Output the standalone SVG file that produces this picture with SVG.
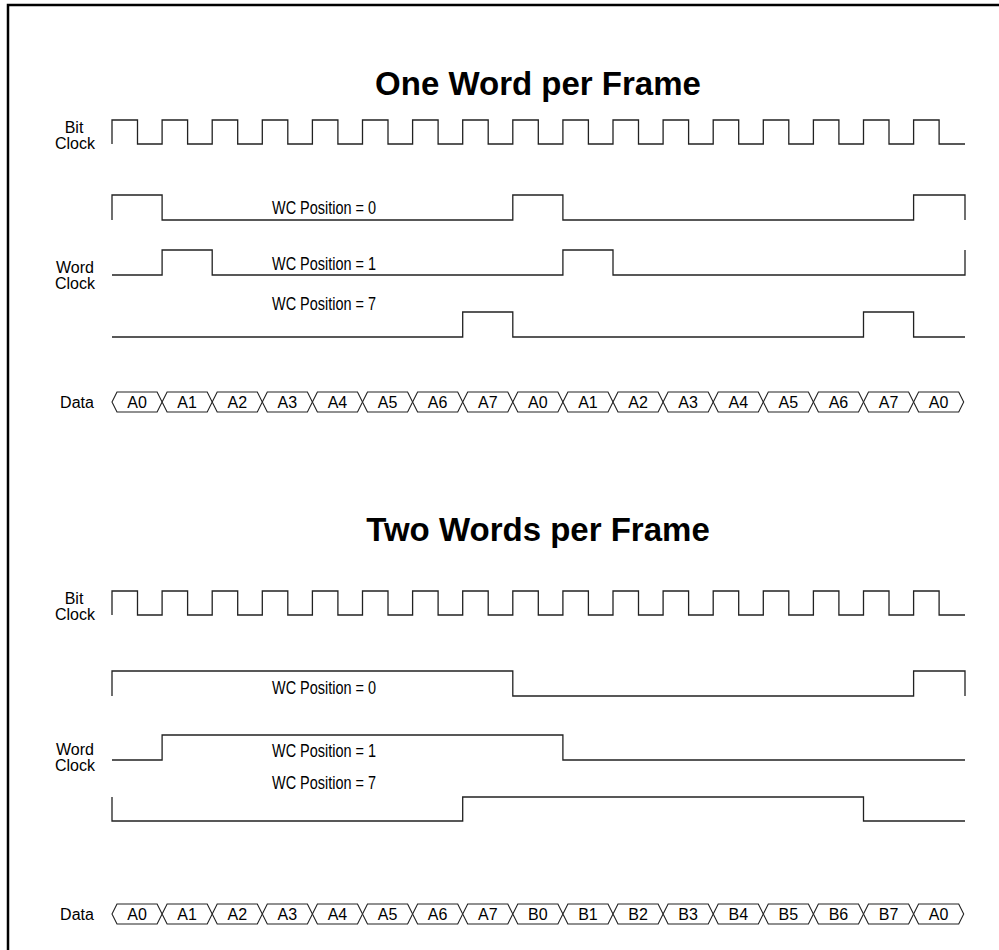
<svg xmlns="http://www.w3.org/2000/svg" width="999" height="950" viewBox="0 0 999 950">
<style>
.t{font-family:"Liberation Sans",Arial,sans-serif;fill:#000}
.title{font-size:33px;font-weight:bold;text-anchor:middle}
.lbl{font-size:16px;text-anchor:middle}
.wc{font-size:18px}
.cell{font-size:16px;text-anchor:middle}
.w{fill:none;stroke:#222;stroke-width:1.3}
.hx{fill:#fff;stroke:#222;stroke-width:1.1}
</style>
<defs>
<path id="bitclk" class="w" d="M112,144 V120 H137.5 V144 H162.1 V120 H187.6 V144 H212.2 V120 H237.7 V144 H262.3 V120 H287.8 V144 H312.4 V120 H337.9 V144 H362.5 V120 H388 V144 H412.6 V120 H438.1 V144 H462.7 V120 H488.2 V144 H512.8 V120 H538.3 V144 H562.9 V120 H588.4 V144 H613 V120 H638.5 V144 H663.1 V120 H688.6 V144 H713.2 V120 H738.7 V144 H763.3 V120 H788.8 V144 H813.4 V120 H838.9 V144 H863.5 V120 H889 V144 H913.6 V120 H939.1 V144 H965"/>
<polygon id="hex" class="hx" points="0,0 5,-10 45.1,-10 50.1,0 45.1,10 5,10"/>
</defs>
<rect width="999" height="950" fill="#fff"/>
<path id="border" d="M8,950 V5 H999" fill="none" stroke="#000" stroke-width="2.5"/>

<g id="section1">
<text class="t title" x="538" y="95">One Word per Frame</text>
<g id="bitclock1">
<text class="t lbl" x="74" y="133">Bit</text>
<text class="t lbl" x="75" y="149">Clock</text>
<use href="#bitclk"/>
</g>
<g id="wordclock1">
<text class="t lbl" x="75" y="273">Word</text>
<text class="t lbl" x="75" y="289">Clock</text>
<g id="wc0-1">
<path class="w" d="M112,220 V195 H162.1 V220 H512.8 V195 H562.9 V220 H913.6 V195 H965 V220"/>
<text class="t wc" x="272" y="214" textLength="104" lengthAdjust="spacingAndGlyphs">WC Position = 0</text>
</g>
<g id="wc1-1">
<path class="w" d="M112,275 H162.1 V250 H212.2 V275 H562.9 V250 H613 V275 H965 V250"/>
<text class="t wc" x="272" y="270" textLength="104" lengthAdjust="spacingAndGlyphs">WC Position = 1</text>
</g>
<g id="wc7-1">
<path class="w" d="M112,337 H462.7 V312 H512.8 V337 H863.5 V312 H913.6 V337 H965"/>
<text class="t wc" x="272" y="310" textLength="104" lengthAdjust="spacingAndGlyphs">WC Position = 7</text>
</g>
</g>
<g id="data1">
<text class="t lbl" x="77" y="408">Data</text>
<use href="#hex" x="112" y="402"/><use href="#hex" x="162.1" y="402"/><use href="#hex" x="212.2" y="402"/><use href="#hex" x="262.3" y="402"/><use href="#hex" x="312.4" y="402"/><use href="#hex" x="362.5" y="402"/><use href="#hex" x="412.6" y="402"/><use href="#hex" x="462.7" y="402"/><use href="#hex" x="512.8" y="402"/><use href="#hex" x="562.9" y="402"/><use href="#hex" x="613" y="402"/><use href="#hex" x="663.1" y="402"/><use href="#hex" x="713.2" y="402"/><use href="#hex" x="763.3" y="402"/><use href="#hex" x="813.4" y="402"/><use href="#hex" x="863.5" y="402"/><use href="#hex" x="913.6" y="402"/>
<text class="t cell" x="137.05" y="408">A0</text><text class="t cell" x="187.15" y="408">A1</text><text class="t cell" x="237.25" y="408">A2</text><text class="t cell" x="287.35" y="408">A3</text><text class="t cell" x="337.45" y="408">A4</text><text class="t cell" x="387.55" y="408">A5</text><text class="t cell" x="437.65" y="408">A6</text><text class="t cell" x="487.75" y="408">A7</text><text class="t cell" x="537.85" y="408">A0</text><text class="t cell" x="587.95" y="408">A1</text><text class="t cell" x="638.05" y="408">A2</text><text class="t cell" x="688.15" y="408">A3</text><text class="t cell" x="738.25" y="408">A4</text><text class="t cell" x="788.35" y="408">A5</text><text class="t cell" x="838.45" y="408">A6</text><text class="t cell" x="888.55" y="408">A7</text><text class="t cell" x="938.65" y="408">A0</text>
</g>
</g>

<g id="section2">
<text class="t title" x="538" y="541">Two Words per Frame</text>
<g id="bitclock2">
<text class="t lbl" x="74" y="604">Bit</text>
<text class="t lbl" x="75" y="620">Clock</text>
<use href="#bitclk" y="471"/>
</g>
<g id="wordclock2">
<text class="t lbl" x="75" y="755">Word</text>
<text class="t lbl" x="75" y="771">Clock</text>
<g id="wc0-2">
<path class="w" d="M112,696 V671 H512.8 V696 H913.6 V671 H965 V696"/>
<text class="t wc" x="272" y="694" textLength="104" lengthAdjust="spacingAndGlyphs">WC Position = 0</text>
</g>
<g id="wc1-2">
<path class="w" d="M112,760 H162.1 V735 H562.9 V760 H965"/>
<text class="t wc" x="272" y="757" textLength="104" lengthAdjust="spacingAndGlyphs">WC Position = 1</text>
</g>
<g id="wc7-2">
<path class="w" d="M112,797 V821 H462.7 V797 H863.5 V821 H965"/>
<text class="t wc" x="272" y="789" textLength="104" lengthAdjust="spacingAndGlyphs">WC Position = 7</text>
</g>
</g>
<g id="data2">
<text class="t lbl" x="77" y="920">Data</text>
<use href="#hex" x="112" y="914"/><use href="#hex" x="162.1" y="914"/><use href="#hex" x="212.2" y="914"/><use href="#hex" x="262.3" y="914"/><use href="#hex" x="312.4" y="914"/><use href="#hex" x="362.5" y="914"/><use href="#hex" x="412.6" y="914"/><use href="#hex" x="462.7" y="914"/><use href="#hex" x="512.8" y="914"/><use href="#hex" x="562.9" y="914"/><use href="#hex" x="613" y="914"/><use href="#hex" x="663.1" y="914"/><use href="#hex" x="713.2" y="914"/><use href="#hex" x="763.3" y="914"/><use href="#hex" x="813.4" y="914"/><use href="#hex" x="863.5" y="914"/><use href="#hex" x="913.6" y="914"/>
<text class="t cell" x="137.05" y="920">A0</text><text class="t cell" x="187.15" y="920">A1</text><text class="t cell" x="237.25" y="920">A2</text><text class="t cell" x="287.35" y="920">A3</text><text class="t cell" x="337.45" y="920">A4</text><text class="t cell" x="387.55" y="920">A5</text><text class="t cell" x="437.65" y="920">A6</text><text class="t cell" x="487.75" y="920">A7</text><text class="t cell" x="537.85" y="920">B0</text><text class="t cell" x="587.95" y="920">B1</text><text class="t cell" x="638.05" y="920">B2</text><text class="t cell" x="688.15" y="920">B3</text><text class="t cell" x="738.25" y="920">B4</text><text class="t cell" x="788.35" y="920">B5</text><text class="t cell" x="838.45" y="920">B6</text><text class="t cell" x="888.55" y="920">B7</text><text class="t cell" x="938.65" y="920">A0</text>
</g>
</g>
</svg>
